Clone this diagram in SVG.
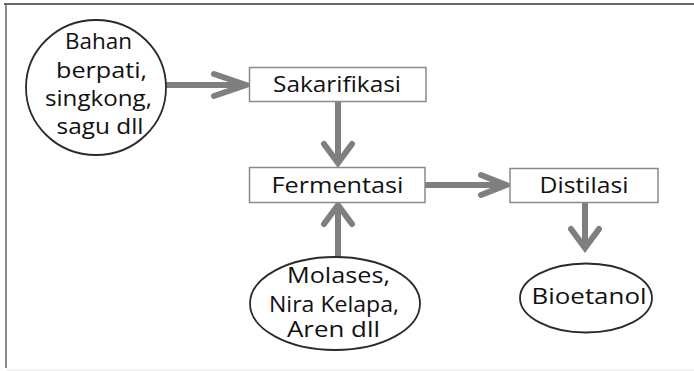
<svg xmlns="http://www.w3.org/2000/svg" width="694" height="371" viewBox="0 0 694 371">
<style>
text{font-family:"Open Sans","Liberation Sans",sans-serif;font-size:21px;fill:#111;text-anchor:middle}
.box{fill:#fff;stroke:#8a8a8a;stroke-width:1.5}
.oval{fill:#fff;stroke:#2a2a2a;stroke-width:1.8}
.ln{fill:none;stroke:#7f7f7f;stroke-width:6}
.hd{fill:none;stroke:#7f7f7f;stroke-width:6;stroke-linejoin:miter;stroke-linecap:round}
</style>
<rect width="694" height="371" fill="#fff"/>
<line x1="4" y1="4" x2="694" y2="4" stroke="#666" stroke-width="2"/>
<line x1="6" y1="4" x2="6" y2="368" stroke="#666" stroke-width="1.5"/>
<line x1="6" y1="370" x2="694" y2="370" stroke="#e6e6e6" stroke-width="1"/>
<g id="connectors">
<line class="ln" x1="166" y1="85" x2="244" y2="85"/>
<polyline class="hd" points="214,74 246,85 214,96"/>
<line class="ln" x1="338" y1="102" x2="338" y2="161"/>
<polyline class="hd" points="324,144 338,163 352,144"/>
<line class="ln" x1="425" y1="185" x2="504" y2="185"/>
<polyline class="hd" points="481,175 506,185 481,195"/>
<line class="ln" x1="338" y1="257" x2="338" y2="207"/>
<polyline class="hd" points="324,224 338,205 352,224"/>
<line class="ln" x1="585" y1="203" x2="585" y2="246"/>
<polyline class="hd" points="571,229 585,248 599,229"/>
</g>
<g id="bahan">
<ellipse class="oval" cx="96" cy="87.5" rx="70" ry="67.5"/>
<text x="98.5" y="49" textLength="67" lengthAdjust="spacingAndGlyphs">Bahan</text>
<text x="101.5" y="77.5" textLength="91" lengthAdjust="spacingAndGlyphs">berpati,</text>
<text x="98.5" y="106" textLength="107" lengthAdjust="spacingAndGlyphs">singkong,</text>
<text x="100" y="134" textLength="87" lengthAdjust="spacingAndGlyphs">sagu dll</text>
</g>
<g id="sakarifikasi">
<rect class="box" x="249.5" y="67.5" width="176.5" height="34"/>
<text x="337" y="92" textLength="128" lengthAdjust="spacingAndGlyphs">Sakarifikasi</text>
</g>
<g id="fermentasi">
<rect class="box" x="249.5" y="167.5" width="175.5" height="35"/>
<text x="337.5" y="193" textLength="132" lengthAdjust="spacingAndGlyphs">Fermentasi</text>
</g>
<g id="distilasi">
<rect class="box" x="510" y="168.5" width="148" height="34"/>
<text x="584" y="193" textLength="89" lengthAdjust="spacingAndGlyphs">Distilasi</text>
</g>
<g id="molases">
<ellipse class="oval" cx="335" cy="303.5" rx="85" ry="46.5"/>
<text x="338.5" y="283" textLength="103" lengthAdjust="spacingAndGlyphs">Molases,</text>
<text x="334" y="311.5" textLength="130" lengthAdjust="spacingAndGlyphs">Nira Kelapa,</text>
<text x="333.5" y="337" textLength="93" lengthAdjust="spacingAndGlyphs">Aren dll</text>
</g>
<g id="bioetanol">
<ellipse class="oval" cx="586" cy="298" rx="66" ry="34.5"/>
<text x="589" y="304" textLength="115" lengthAdjust="spacingAndGlyphs">Bioetanol</text>
</g>
</svg>
